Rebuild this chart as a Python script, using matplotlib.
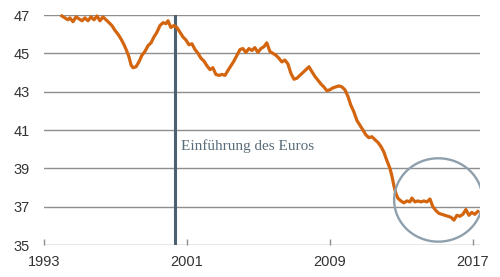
import matplotlib
matplotlib.use('Agg')
import matplotlib.pyplot as plt
from matplotlib.patches import Ellipse

# Werte
jahre = [1994.00, 1994.17, 1994.34, 1994.45, 1994.62, 1994.79, 1994.96, 1995.13, 1995.29, 1995.46,
         1995.63, 1995.80, 1995.97, 1996.13, 1996.30, 1996.47, 1996.64, 1996.80, 1996.97, 1997.14,
         1997.31, 1997.48, 1997.64, 1997.76, 1997.87, 1997.98, 1998.15, 1998.31, 1998.48, 1998.65,
         1998.82, 1998.99, 1999.15, 1999.32, 1999.49, 1999.66, 1999.83, 1999.94, 2000.10, 2000.27,
         2000.44, 2000.61, 2000.78, 2000.94, 2001.11, 2001.28, 2001.45, 2001.62, 2001.78, 2001.95,
         2002.12, 2002.29, 2002.45, 2002.62, 2002.79, 2002.96, 2003.13, 2003.29, 2003.46, 2003.63,
         2003.80, 2003.97, 2004.13, 2004.30, 2004.47, 2004.64, 2004.80, 2004.97, 2005.14, 2005.31,
         2005.47, 2005.64, 2005.81, 2005.98, 2006.14, 2006.31, 2006.48, 2006.65, 2006.82, 2006.99,
         2007.15, 2007.32, 2007.49, 2007.66, 2007.83, 2007.99, 2008.16, 2008.33, 2008.50, 2008.66,
         2008.83, 2009.00, 2009.17, 2009.34, 2009.50, 2009.67, 2009.84, 2010.01, 2010.17, 2010.34,
         2010.51, 2010.68, 2010.85, 2011.01, 2011.18, 2011.35, 2011.52, 2011.69, 2011.85, 2012.02,
         2012.19, 2012.36, 2012.47, 2012.58, 2012.69, 2012.80, 2012.97, 2013.14, 2013.31, 2013.48,
         2013.59, 2013.76, 2013.92, 2014.09, 2014.26, 2014.43, 2014.60, 2014.76, 2014.93, 2015.10,
         2015.27, 2015.43, 2015.60, 2015.77, 2015.94, 2016.11, 2016.27, 2016.44, 2016.61, 2016.78,
         2016.94, 2017.11, 2017.28]
werte = [46.95, 46.85, 46.75, 46.85, 46.65, 46.90, 46.80, 46.70, 46.85, 46.70,
         46.90, 46.75, 46.95, 46.70, 46.90, 46.75, 46.60, 46.45, 46.20, 46.00,
         45.75, 45.45, 45.10, 44.80, 44.40, 44.25, 44.30, 44.55, 44.90, 45.10,
         45.40, 45.55, 45.85, 46.10, 46.45, 46.60, 46.55, 46.70, 46.35, 46.45,
         46.35, 46.10, 45.85, 45.70, 45.45, 45.50, 45.20, 45.00, 44.75, 44.60,
         44.35, 44.15, 44.25, 43.90, 43.85, 43.90, 43.85, 44.10, 44.35, 44.60,
         44.90, 45.20, 45.25, 45.05, 45.25, 45.15, 45.30, 45.05, 45.25, 45.35,
         45.55, 45.10, 45.00, 44.90, 44.75, 44.55, 44.65, 44.45, 43.95, 43.65,
         43.70, 43.85, 44.00, 44.15, 44.30, 44.05, 43.80, 43.60, 43.40, 43.25,
         43.05, 43.10, 43.20, 43.25, 43.30, 43.25, 43.10, 42.75, 42.30, 41.95,
         41.50, 41.25, 41.00, 40.75, 40.60, 40.65, 40.50, 40.35, 40.15, 39.85,
         39.40, 39.00, 38.60, 38.10, 37.70, 37.45, 37.30, 37.20, 37.30, 37.25,
         37.45, 37.25, 37.30, 37.25, 37.30, 37.25, 37.40, 37.00, 36.80, 36.65,
         36.60, 36.55, 36.50, 36.45, 36.30, 36.55, 36.50, 36.60, 36.85, 36.55,
         36.70, 36.60, 36.75]

y_ticks = [35, 37, 39, 41, 43, 45, 47]
x_ticks = [1993, 2001, 2009, 2017]
euro_jahr = 2000.33
kreis_mitte = (2015.07, 37.35)

fig = plt.figure(figsize=(5, 2.77), dpi=100)
ax = fig.add_axes([0.088, 0.1155, 0.872, 0.8303])

ax.set_xlim(1993, 2017.4)
ax.set_ylim(35, 47)

# Gitterlinien
for y in y_ticks:
    ax.axhline(y, color='#8e8e8e', lw=1.0, zorder=1)

ax.axvline(euro_jahr, color='#4b6070', lw=2.2, zorder=2)
ax.text(euro_jahr + 0.33, 39.96, 'Einführung des Euros', family='Liberation Serif',
        fontsize=11, color='#5a6d7b', va='baseline', ha='left')

ax.plot(jahre, werte, color='#d4650f', lw=2.3, zorder=3, clip_on=False)

ax.add_patch(Ellipse(kreis_mitte, 4.95, 4.35, fill=False, edgecolor='#8ea0ad', lw=1.7, zorder=4))

for s in ax.spines.values():
    s.set_visible(False)

ax.set_yticks(y_ticks)
ax.set_xticks(x_ticks)
ax.tick_params(axis='y', length=0, pad=10, labelsize=10.5, labelcolor='#333333')
ax.tick_params(axis='x', direction='in', length=4, width=1, color='#8e8e8e', pad=7,
               labelsize=10.5, labelcolor='#333333')
for lab in ax.get_xticklabels() + ax.get_yticklabels():
    lab.set_family('Liberation Sans')

plt.savefig('out.png', dpi=100)
